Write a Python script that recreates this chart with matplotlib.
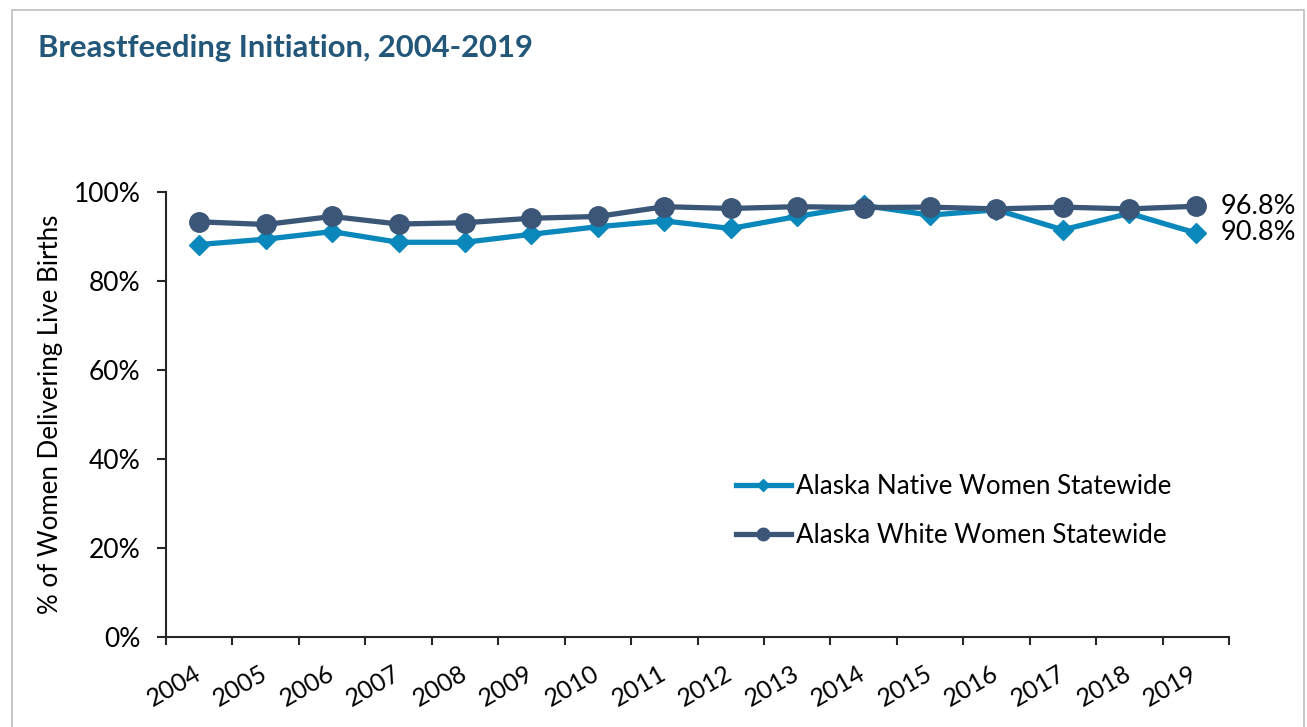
import matplotlib.pyplot as plt
from matplotlib.lines import Line2D
from matplotlib.patches import Rectangle
from matplotlib.ticker import FixedLocator, PercentFormatter

# Chart data.

years = [
    "2004", "2005", "2006", "2007", "2008", "2009", "2010", "2011",
    "2012", "2013", "2014", "2015", "2016", "2017", "2018", "2019",
]

native_pct = [
    88.2, 89.4, 91.1, 88.7, 88.7, 90.5, 92.2, 93.5,
    91.8, 94.5, 97.0, 94.8, 96.0, 91.5, 95.2, 90.8,
]

white_pct = [
    93.3, 92.7, 94.5, 92.8, 93.1, 94.1, 94.5, 96.7,
    96.3, 96.7, 96.5, 96.6, 96.2, 96.6, 96.2, 96.8,
]

series_names = [
    "Alaska Native Women Statewide",
    "Alaska White Women Statewide",
]

y_ticks = [0, 20, 40, 60, 80, 100]

NATIVE_COLOR = "#0a87bb"
WHITE_COLOR = "#3b5677"
TITLE_COLOR = "#22577a"
TEXT_COLOR = "#000000"
AXIS_COLOR = "#262626"

FS = 19

plt.rcParams["font.family"] = ["Lato", "DejaVu Sans"]

W, H = 1307, 727
fig = plt.figure(figsize=(W / 100, H / 100), dpi=100)

# Outer frame of the chart area.
fig.patches.append(
    Rectangle(
        (12 / W, -0.05),
        (1304 - 12) / W,
        1.05 - 10 / H,
        transform=fig.transFigure,
        fill=False,
        edgecolor="#bdbdbd",
        linewidth=1.2,
    )
)

ax = fig.add_axes([166 / W, 1 - 637 / H, (1229 - 166) / W, (637 - 192) / H])

x = list(range(len(years)))

ax.plot(
    x, native_pct,
    color=NATIVE_COLOR,
    linewidth=3.8,
    marker="D",
    markersize=10.5,
    zorder=3,
)

ax.plot(
    x, white_pct,
    color=WHITE_COLOR,
    linewidth=3.8,
    marker="o",
    markersize=14,
    zorder=4,
)

# End-of-line value labels.
ax.annotate(
    f"{white_pct[-1]:.1f}%",
    xy=(x[-1], white_pct[-1]),
    xytext=(18, 0),
    textcoords="offset points",
    va="center",
    ha="left",
    fontsize=19.5,
    color=TEXT_COLOR,
    annotation_clip=False,
)

ax.annotate(
    f"{native_pct[-1]:.1f}%",
    xy=(x[-1], native_pct[-1]),
    xytext=(18, 0),
    textcoords="offset points",
    va="center",
    ha="left",
    fontsize=19.5,
    color=TEXT_COLOR,
    annotation_clip=False,
)

ax.set_xlim(-0.5, len(years) - 0.5)
ax.set_ylim(0, 100)

ax.yaxis.set_major_locator(FixedLocator(y_ticks))
ax.yaxis.set_major_formatter(PercentFormatter(decimals=0))

# Category axis: ticks between categories, labels at the centers.
ax.xaxis.set_major_locator(FixedLocator([i - 0.5 for i in range(len(years) + 1)]))
ax.xaxis.set_minor_locator(FixedLocator(x))
ax.set_xticklabels([])
ax.set_xticklabels(years, minor=True)

ax.tick_params(axis="x", which="major", length=6, width=1.5, color=AXIS_COLOR)
ax.tick_params(axis="x", which="minor", length=0, pad=25, labelsize=18)
ax.tick_params(axis="y", length=6.5, width=1.5, color=AXIS_COLOR, pad=12, labelsize=FS)

for label in ax.get_xticklabels(minor=True):
    label.set_rotation(30)
    label.set_rotation_mode("anchor")
    label.set_ha("right")
    label.set_va("center")

for side in ["top", "right"]:
    ax.spines[side].set_visible(False)

for side in ["left", "bottom"]:
    ax.spines[side].set_color(AXIS_COLOR)
    ax.spines[side].set_linewidth(1.5)

ax.set_ylabel("% of Women Delivering Live Births", fontsize=18.6, color=TEXT_COLOR)
ax.yaxis.set_label_coords((63 - 166) / (1229 - 166), 0.5)

# Legend with smaller markers, as in the source chart.
handles = [
    Line2D([], [], color=NATIVE_COLOR, linewidth=3.8, marker="D", markersize=6),
    Line2D([], [], color=WHITE_COLOR, linewidth=3.8, marker="o", markersize=9),
]

fig.legend(
    handles,
    series_names,
    loc="center left",
    bbox_to_anchor=(736 / W, 1 - 511 / H),
    frameon=False,
    fontsize=18.7,
    handlelength=2.1,
    handletextpad=0.2,
    labelspacing=0.95,
    borderpad=0,
    borderaxespad=0,
)

fig.text(
    38 / W, 1 - 48 / H,
    "Breastfeeding Initiation, 2004-2019",
    fontsize=22.3,
    fontweight="bold",
    color=TITLE_COLOR,
    ha="left",
    va="center",
)

fig.savefig("out.png", dpi=100)
